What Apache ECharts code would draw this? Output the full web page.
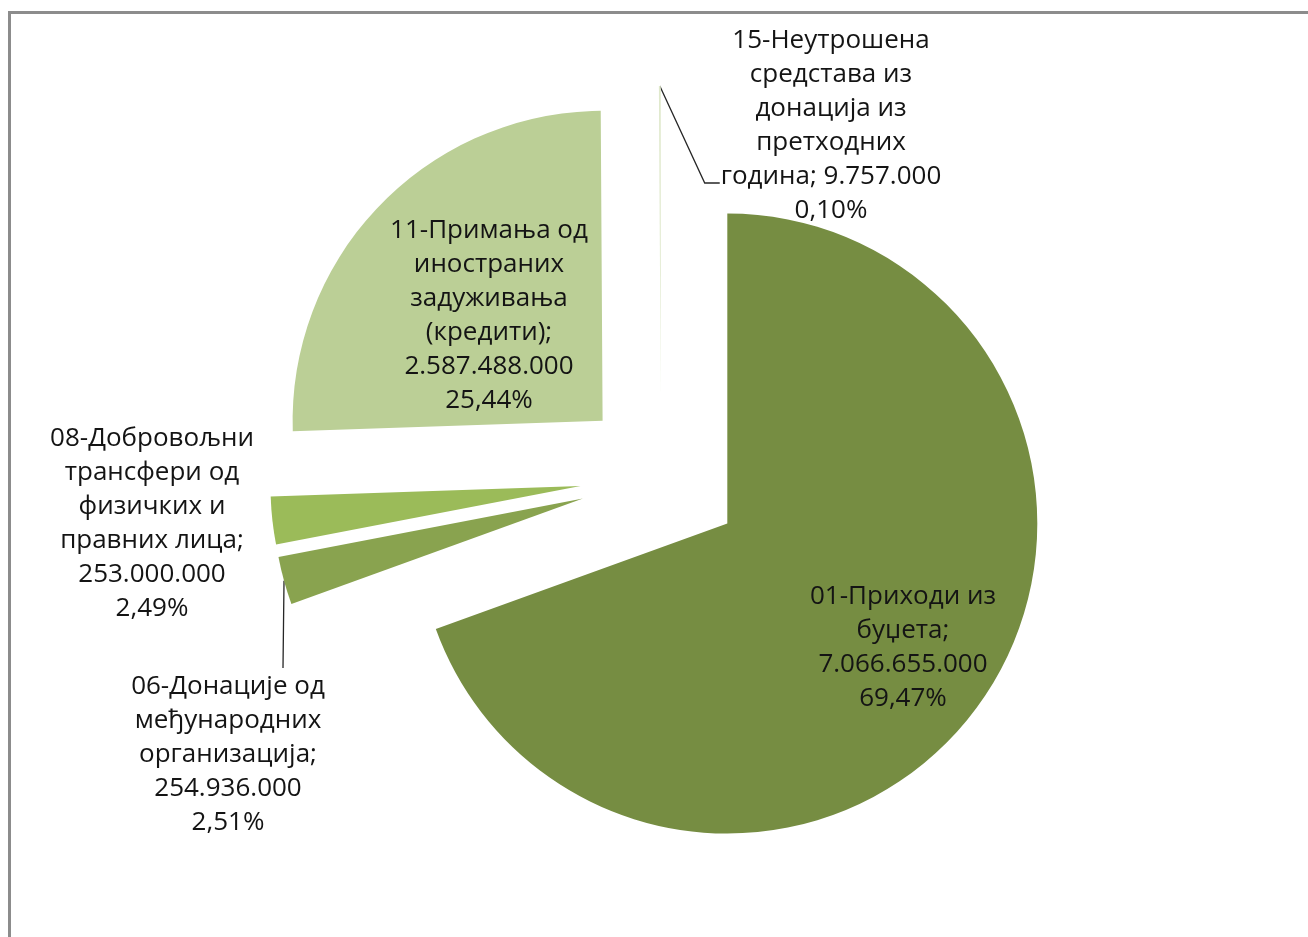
<!DOCTYPE html>
<html>
<head>
<meta charset="utf-8">
<title>Извори финансирања</title>
<script src="https://cdn.jsdelivr.net/npm/echarts@6/dist/echarts.min.js"></script>
<style>
  html, body { margin: 0; padding: 0; background: #fff; }
  #chart { width: 1308px; height: 937px; }
</style>
</head>
<body>
<div id="chart"></div>
<script>
// categories, in clockwise order from 12 o'clock
const categories = [
  '01-Приходи из буџета',
  '06-Донације од међународних организација',
  '08-Добровољни трансфери од физичких и правних лица',
  '11-Примања од иностраних задуживања (кредити)',
  '15-Неутрошена средства из донација из претходних година'
];
// same names, broken into lines the way the labels show them
const labelNames = [
  '01-Приходи из\nбуџета',
  '06-Донације од\nмеђународних\nорганизација',
  '08-Добровољни\nтрансфери од\nфизичких и\nправних лица',
  '11-Примања од\nиностраних\nзадуживања\n(кредити)',
  '15-Неутрошена\nсредстава из\nдонација из\nпретходних\nгодина'
];
const values = [7066655000, 254936000, 253000000, 2587488000, 9757000];
const colors = ['#768d42', '#89a34f', '#9bbb59', '#bbcf96', '#e0e9cc'];

// layout
const CENTER = [661, 477];
const RADIUS = 310;
const EXPLODE = 81;
const labelPos = [[903, 648], [228, 755], [152, 524], [489, 316], [831, 126]];
const LINE_H = 34;

const total = values.reduce((a, b) => a + b, 0);
const fmtNum = v => String(v).replace(/\B(?=(\d{3})+(?!\d))/g, '.');
const fmtPct = v => (v / total * 100).toFixed(2).replace('.', ',') + '%';

// mid angle of each slice, clockwise from 12 o'clock
let acc = 0;
const midAngles = values.map(v => {
  const a = (acc + v / 2) / total * Math.PI * 2;
  acc += v;
  return a;
});

const chart = echarts.init(document.getElementById('chart'));

// one series per slice, so each slice can be pulled out from the common centre
const series = values.map((_, k) => ({
  type: 'pie',
  name: categories[k],
  center: [CENTER[0] + EXPLODE * Math.sin(midAngles[k]), CENTER[1] - EXPLODE * Math.cos(midAngles[k])],
  radius: RADIUS,
  startAngle: 90,
  clockwise: true,
  avoidLabelOverlap: false,
  emphasis: { disabled: true },
  itemStyle: { borderWidth: 0 },
  label: {
    show: true,
    position: 'outside',
    color: '#141414',
    fontFamily: 'Open Sans',
    fontSize: 26,
    lineHeight: LINE_H,
    align: 'center',
    formatter: p => labelNames[p.dataIndex] + ';' + (p.dataIndex === 4 ? ' ' : '\n') +
      fmtNum(p.value) + '\n' + fmtPct(p.value)
  },
  labelLine: { show: false, lineStyle: { color: '#262626', width: 1.3 } },
  labelLayout: function (p) {
    const i = p.dataIndex;
    if (i !== k) return {};
    const pos = labelPos[i];
    const out = { x: pos[0], y: pos[1], align: 'center', verticalAlign: 'middle' };
    const w = p.labelRect.width, h = p.labelRect.height;
    const left = pos[0] - w / 2, top = pos[1] - h / 2;
    if (p.labelLinePoints) {
      const s = p.labelLinePoints[0];
      if (i === 4) {
        const ly = top + 4.5 * LINE_H + 6;
        out.labelLinePoints = [s, [left - 16, ly], [left - 1, ly]];
      } else if (i === 1) {
        const e = [pos[0] + 55, top - 2];
        out.labelLinePoints = [s, [(s[0] + e[0]) / 2, (s[1] + e[1]) / 2], e];
      }
    }
    return out;
  },
  data: values.map((v, i) => ({
    name: categories[i],
    value: v,
    itemStyle: { color: i === k ? colors[i] : 'rgba(0,0,0,0)' },
    label: { show: i === k },
    labelLine: { show: i === k && (i === 1 || i === 4) }
  }))
}));

chart.setOption({
  animation: false,
  backgroundColor: '#fff',
  graphic: [{
    type: 'rect',
    silent: true,
    shape: { x: 9.5, y: 12.5, width: 1400, height: 1000 },
    style: { fill: 'none', stroke: '#8c8c8c', lineWidth: 3 }
  }],
  series: series
});
window.addEventListener('resize', () => chart.resize());
</script>
</body>
</html>
